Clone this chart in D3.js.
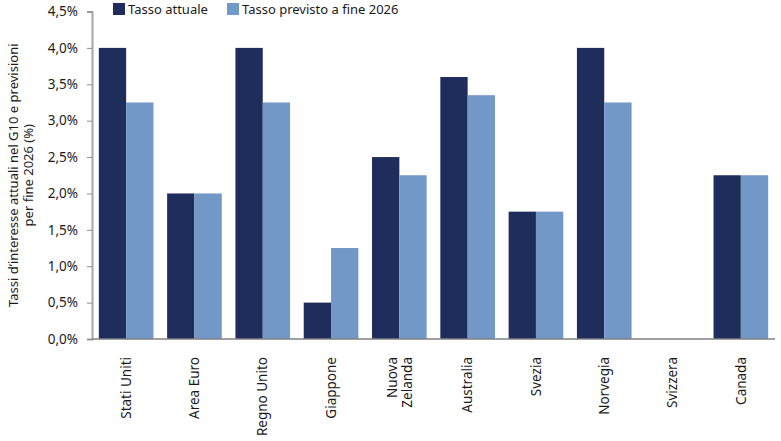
<!DOCTYPE html>
<html>
<head>
<meta charset="utf-8">
<script src="https://cdn.jsdelivr.net/npm/d3@7"></script>
<style>
  body { margin: 0; background: #fff; }
  svg { font-family: "Noto Sans", sans-serif; }
</style>
</head>
<body>
<div id="chart"></div>
<script>
const categories = ["Stati Uniti", "Area Euro", "Regno Unito", "Giappone", "Nuova\nZelanda", "Australia", "Svezia", "Norvegia", "Svizzera", "Canada"];
const seriesNames = ["Tasso attuale", "Tasso previsto a fine 2026"];
const tassoAttuale = [4.0, 2.0, 4.0, 0.5, 2.5, 3.6, 1.75, 4.0, 0, 2.25];
const tassoPrevisto = [3.25, 2.0, 3.25, 1.25, 2.25, 3.35, 1.75, 3.25, 0, 2.25];
const yTicks = [0, 0.5, 1, 1.5, 2, 2.5, 3, 3.5, 4, 4.5];
const colors = ["#1f2d5c", "#7198c6"];

const width = 781, height = 441;
const margin = { top: 11.5, right: 6, bottom: 102, left: 92 };

const svg = d3.select("#chart").append("svg")
    .attr("width", width)
    .attr("height", height);

const x = d3.scaleBand()
    .domain(categories)
    .range([margin.left, width - margin.right])
    .paddingInner(0.2)
    .paddingOuter(0.1);

const xSub = d3.scaleBand()
    .domain(seriesNames)
    .range([0, x.bandwidth()]);

const y = d3.scaleLinear()
    .domain([0, 4.5])
    .range([height - margin.bottom, margin.top]);

const fmt = v => d3.format(".1f")(v).replace(".", ",") + "%";

// barre
const rows = categories.map((c, i) => ({ cat: c, values: [tassoAttuale[i], tassoPrevisto[i]] }));
const groups = svg.append("g").selectAll("g")
    .data(rows)
    .join("g")
    .attr("transform", d => `translate(${x(d.cat)},0)`);

groups.selectAll("rect")
    .data(d => d.values.map((v, j) => ({ key: seriesNames[j], v, j })))
    .join("rect")
    .attr("x", d => xSub(d.key))
    .attr("y", d => y(d.v))
    .attr("width", xSub.bandwidth())
    .attr("height", d => y(0) - y(d.v))
    .attr("fill", d => colors[d.j]);

// asse y
const yAxis = svg.append("g")
    .attr("transform", `translate(${margin.left},0)`)
    .call(d3.axisLeft(y).tickValues(yTicks).tickFormat(fmt).tickSize(5).tickPadding(9));
yAxis.select(".domain").attr("stroke", "#a6a6a6").attr("stroke-width", 2);
yAxis.selectAll(".tick line").attr("stroke", "#8c8c8c");
yAxis.selectAll(".tick text").attr("font-size", 13.5).attr("fill", "#1a1a1a")
    .attr("font-family", "Noto Sans, sans-serif");

// asse x (linea base)
svg.append("line")
    .attr("x1", margin.left)
    .attr("x2", width - margin.right)
    .attr("y1", y(0))
    .attr("y2", y(0))
    .attr("stroke", "#808080")
    .attr("stroke-width", 1.5);

// etichette categorie ruotate
const labels = svg.append("g").selectAll("text")
    .data(categories)
    .join("text")
    .attr("transform", d => `translate(${x(d) + x.bandwidth() / 2},${y(0) + 18}) rotate(-90)`)
    .attr("text-anchor", "end")
    .attr("font-size", 13.5)
    .attr("fill", "#1a1a1a");

labels.each(function (d) {
    const parts = d.split("\n");
    const t = d3.select(this);
    const lh = 15;
    parts.forEach((p, k) => {
        t.append("tspan")
            .attr("x", 0)
            .attr("y", (k - (parts.length - 1) / 2) * lh)
            .attr("dy", "0.35em")
            .text(p);
    });
});

// titolo asse y
const yTitle = svg.append("text")
    .attr("transform", `translate(18,${(y(0) + y(4.5)) / 2}) rotate(-90)`)
    .attr("text-anchor", "middle")
    .attr("font-size", 13)
    .attr("fill", "#1a1a1a");
yTitle.append("tspan").attr("x", 0).attr("y", 0).text("Tassi d’interesse attuali nel G10 e previsioni");
yTitle.append("tspan").attr("x", 0).attr("y", 15).text("per fine 2026 (%)");

// legenda
const legend = svg.append("g").attr("transform", "translate(113,3)");
const legendX = [0, 114];
seriesNames.forEach((name, i) => {
    const g = legend.append("g").attr("transform", `translate(${legendX[i]},0)`);
    g.append("rect").attr("width", 12).attr("height", 12).attr("fill", colors[i]);
    g.append("text")
        .attr("x", 15)
        .attr("y", 6)
        .attr("dy", "0.35em")
        .attr("font-size", 13)
        .attr("fill", "#1a1a1a")
        .text(name);
});
</script>
</body>
</html>
